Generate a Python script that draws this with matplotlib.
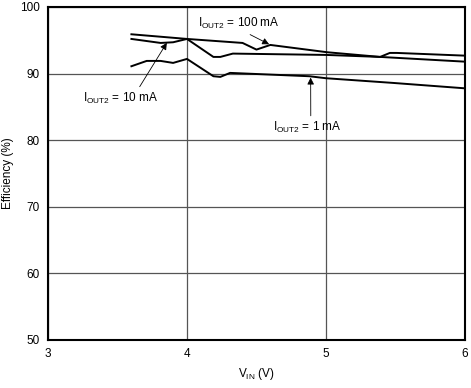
import matplotlib
matplotlib.use("Agg")
import matplotlib.pyplot as plt

plt.rcParams['font.family'] = ['Liberation Sans', 'DejaVu Sans']
plt.rcParams['mathtext.fontset'] = 'custom'
plt.rcParams['mathtext.rm'] = 'Liberation Sans'

# I_OUT2 = 100 mA
vin_100 = [3.60, 4.00, 4.40, 4.50, 4.60, 5.01, 5.39, 5.99]
eff_100 = [95.9, 95.2, 94.6, 93.6, 94.3, 93.2, 92.5, 91.8]

# I_OUT2 = 10 mA
vin_10 = [3.60, 3.81, 3.90, 4.00, 4.19, 4.24, 4.33, 5.00, 5.39, 5.46, 5.51, 5.99]
eff_10 = [95.2, 94.6, 94.7, 95.2, 92.5, 92.5, 93.0, 92.8, 92.5, 93.1, 93.1, 92.7]

# I_OUT2 = 1 mA
vin_1 = [3.60, 3.71, 3.81, 3.90, 4.00, 4.19, 4.24, 4.31, 4.88, 5.00, 5.48, 5.99]
eff_1 = [91.1, 91.9, 91.9, 91.6, 92.2, 89.6, 89.5, 90.1, 89.6, 89.3, 88.6, 87.8]

fig = plt.figure(figsize=(4.71, 3.88), dpi=100)
ax = fig.add_axes([0.102, 0.124, 0.885, 0.858])

for v, e in [(vin_100, eff_100), (vin_10, eff_10), (vin_1, eff_1)]:
    ax.plot(v, e, color='black', linewidth=1.4)

ax.set_xlim(3, 6)
ax.set_ylim(50, 100)
ax.set_xticks([3, 4, 5, 6])
ax.set_yticks([50, 60, 70, 80, 90, 100])
ax.grid(True, color='#555555', linewidth=0.9)
ax.tick_params(length=0, labelsize=8.5, pad=6)
for s in ax.spines.values():
    s.set_linewidth(1.5)

ax.set_xlabel(r'V$_{\mathregular{IN}}$ (V)', fontsize=8.5)
ax.set_ylabel('Efficiency (%)', fontsize=8.5)


def arrow(rx, ry):
    return dict(arrowstyle='-|>', color='black', lw=0.6, mutation_scale=10,
                relpos=(rx, ry), shrinkA=1, shrinkB=1)


ax.annotate(r'I$_{\mathregular{OUT2}}$ = 100 mA', xy=(4.6, 94.3), xytext=(4.08, 97.5),
            fontsize=8.5, arrowprops=arrow(0.52, 0.1), va='center')
ax.annotate(r'I$_{\mathregular{OUT2}}$ = 10 mA', xy=(3.86, 94.8), xytext=(3.25, 86.3),
            fontsize=8.5, arrowprops=arrow(0.72, 0.95), va='center')
ax.annotate(r'I$_{\mathregular{OUT2}}$ = 1 mA', xy=(4.89, 89.6), xytext=(4.62, 81.9),
            fontsize=8.5, arrowprops=arrow(0.55, 0.95), va='center')

fig.savefig('out.png', dpi=100)
